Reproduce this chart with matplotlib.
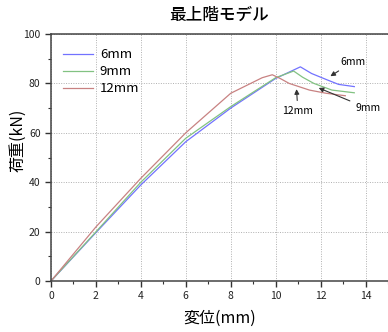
import numpy as np
import matplotlib.pyplot as plt
from matplotlib.ticker import MultipleLocator

plt.rcParams['font.family'] = ['Noto Sans CJK JP', 'DejaVu Sans']

# 荷重-変位 曲線 (読み取り値)
disp_6 = [0, 2, 4, 6, 8, 10, 11.1, 11.6, 12.3, 12.8, 13.5]
load_6 = [0, 19.6, 38.9, 56.4, 70.0, 82.0, 86.7, 84.0, 81.4, 79.6, 78.7]
disp_9 = [0, 2, 4, 6, 8, 10, 10.8, 11.2, 11.7, 12.5, 13.5]
load_9 = [0, 19.9, 40.0, 57.8, 70.6, 82.3, 85.0, 82.5, 80.0, 77.3, 76.2]
disp_12 = [0, 2, 4, 6, 8, 9.4, 9.85, 10.2, 10.6, 11.5, 12.25, 13.1]
load_12 = [0, 21.9, 41.6, 60.0, 76.0, 82.3, 83.5, 82.0, 80.0, 77.3, 76.0, 75.0]

labels = ['6mm', '9mm', '12mm']
colors = ['#7272ff', '#82c282', '#c88282']

fig = plt.figure(figsize=(3.88, 3.32), dpi=100)
ax = fig.add_axes([0.1314, 0.1536, 0.8686, 0.744])

for d, f, lab, c in zip([disp_6, disp_9, disp_12], [load_6, load_9, load_12], labels, colors):
    ax.plot(d, f, color=c, lw=0.9, label=lab)

ax.set_xlim(0, 15)
ax.set_ylim(0, 100)
ax.xaxis.set_major_locator(MultipleLocator(2))
ax.xaxis.set_minor_locator(MultipleLocator(1))
ax.yaxis.set_major_locator(MultipleLocator(20))
ax.yaxis.set_minor_locator(MultipleLocator(10))
ax.set_xticks(range(0, 15, 2))
ax.grid(True, which='major', color='#b0b0b0', ls=(0, (1, 1.5)), lw=0.7)
ax.tick_params(which='both', direction='out', colors='#333333', labelsize=7.5,
               labelcolor='#222222')
ax.tick_params(which='major', length=4, width=1)
ax.tick_params(which='minor', length=2.5, width=0.8)
for s in ['left', 'bottom', 'top']:
    ax.spines[s].set_color('#444444')
    ax.spines[s].set_linewidth(1.1)
ax.spines['right'].set_visible(False)

ax.set_title('最上階モデル', fontsize=12, fontweight='medium', pad=10)
ax.set_xlabel('変位(mm)', fontsize=11.5, labelpad=6)
ax.set_ylabel('荷重(kN)', fontsize=11.5)
ax.yaxis.set_label_coords(-0.072, 0.57)

ax.legend(loc='upper left', bbox_to_anchor=(0.0, 0.99), frameon=False,
          fontsize=9.5, handlelength=2.3, handletextpad=0.5, labelspacing=0.3)

arrow = dict(arrowstyle='-|>', color='#333333', lw=0.8, mutation_scale=7)
ax.annotate('6mm', xy=(12.33, 82.3), xytext=(13.45, 88.8), fontsize=7.5,
            ha='center', va='center', arrowprops=arrow)
ax.annotate('9mm', xy=(11.8, 78.6), xytext=(14.1, 69.9), fontsize=7.5,
            ha='center', va='center', arrowprops=arrow)
ax.annotate('12mm', xy=(10.92, 78.8), xytext=(10.99, 68.8), fontsize=7.5,
            ha='center', va='center', arrowprops=arrow)

fig.savefig('out.png', dpi=100)
